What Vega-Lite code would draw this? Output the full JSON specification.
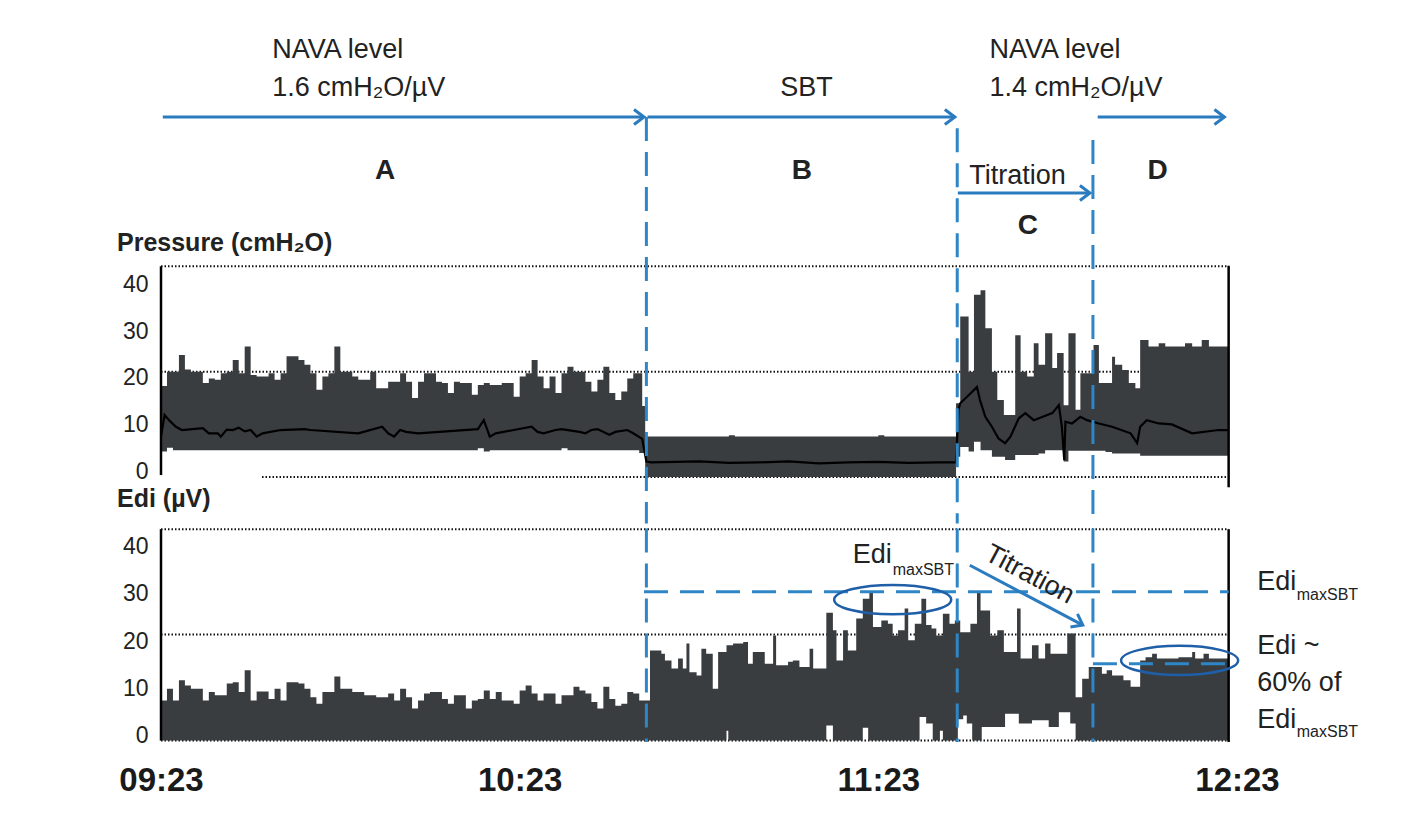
{
  "$schema": "https://vega.github.io/schema/vega-lite/v6.json",
  "padding": {"left": 117, "top": 0, "right": 5, "bottom": 5},
  "background": "white",
  "spacing": 0,
  "config": {
    "view": {"stroke": null},
    "font": "Liberation Sans",
    "text": {"font": "Liberation Sans", "color": "#222222"},
    "point": {"opacity": 1}
  },
  "resolve": {"scale": {"x": "independent", "y": "independent"}},
  "datasets": {
    "pband": [
      {"t": 0, "v": 4.3, "v2": 18.3}, {"t": 1, "v": 5.1, "v2": 21.3}, {"t": 2, "v": 4.6, "v2": 21.3}, {"t": 3, "v": 4.6, "v2": 24.9},
      {"t": 4, "v": 4.6, "v2": 21.8}, {"t": 5, "v": 4.6, "v2": 21.3}, {"t": 6, "v": 4.6, "v2": 21.3}, {"t": 7, "v": 4.6, "v2": 18.9},
      {"t": 8, "v": 4.6, "v2": 19.9}, {"t": 9, "v": 4.6, "v2": 19.6}, {"t": 10, "v": 4.6, "v2": 21.0}, {"t": 11, "v": 4.6, "v2": 21.3},
      {"t": 12, "v": 4.6, "v2": 23.8}, {"t": 13, "v": 4.6, "v2": 21.0}, {"t": 14, "v": 4.6, "v2": 26.7}, {"t": 15, "v": 4.6, "v2": 20.6},
      {"t": 16, "v": 4.6, "v2": 20.3}, {"t": 17, "v": 4.6, "v2": 20.3}, {"t": 18, "v": 4.6, "v2": 21.0}, {"t": 19, "v": 4.6, "v2": 19.6},
      {"t": 20, "v": 4.6, "v2": 21.0}, {"t": 21, "v": 4.6, "v2": 24.6}, {"t": 22, "v": 4.6, "v2": 24.6}, {"t": 23, "v": 4.6, "v2": 23.8},
      {"t": 24, "v": 4.6, "v2": 22.8}, {"t": 25, "v": 4.6, "v2": 21.0}, {"t": 26, "v": 4.6, "v2": 17.5}, {"t": 27, "v": 4.6, "v2": 20.3},
      {"t": 28, "v": 4.6, "v2": 21.0}, {"t": 29, "v": 4.6, "v2": 26.7}, {"t": 30, "v": 4.6, "v2": 21.3}, {"t": 31, "v": 4.6, "v2": 21.3},
      {"t": 32, "v": 4.6, "v2": 20.3}, {"t": 33, "v": 4.6, "v2": 19.6}, {"t": 34, "v": 4.6, "v2": 19.6}, {"t": 35, "v": 4.6, "v2": 21.3},
      {"t": 36, "v": 4.6, "v2": 17.8}, {"t": 37, "v": 4.6, "v2": 17.8}, {"t": 38, "v": 4.6, "v2": 19.2}, {"t": 39, "v": 4.6, "v2": 19.2},
      {"t": 40, "v": 4.6, "v2": 21.0}, {"t": 41, "v": 4.6, "v2": 19.2}, {"t": 42, "v": 4.6, "v2": 15.7}, {"t": 43, "v": 4.6, "v2": 19.2},
      {"t": 44, "v": 4.6, "v2": 21.0}, {"t": 45, "v": 4.6, "v2": 21.0}, {"t": 46, "v": 4.6, "v2": 19.2}, {"t": 47, "v": 4.6, "v2": 18.9},
      {"t": 48, "v": 4.6, "v2": 16.8}, {"t": 49, "v": 4.6, "v2": 19.2}, {"t": 50, "v": 4.6, "v2": 18.9}, {"t": 51, "v": 4.6, "v2": 18.9},
      {"t": 52, "v": 4.6, "v2": 16.4}, {"t": 53, "v": 5.0, "v2": 18.5}, {"t": 54, "v": 4.3, "v2": 18.9}, {"t": 55, "v": 4.6, "v2": 18.5},
      {"t": 56, "v": 4.6, "v2": 18.5}, {"t": 57, "v": 4.6, "v2": 18.9}, {"t": 58, "v": 4.6, "v2": 18.9}, {"t": 59, "v": 4.6, "v2": 16.0},
      {"t": 60, "v": 4.6, "v2": 20.3}, {"t": 61, "v": 4.6, "v2": 21.0}, {"t": 62, "v": 4.6, "v2": 23.8}, {"t": 63, "v": 4.6, "v2": 20.3},
      {"t": 64, "v": 4.6, "v2": 17.8}, {"t": 65, "v": 4.6, "v2": 20.3}, {"t": 66, "v": 4.6, "v2": 16.8}, {"t": 67, "v": 5.0, "v2": 21.0},
      {"t": 68, "v": 4.6, "v2": 22.4}, {"t": 69, "v": 4.6, "v2": 21.3}, {"t": 70, "v": 4.6, "v2": 21.3}, {"t": 71, "v": 4.6, "v2": 19.2},
      {"t": 72, "v": 4.6, "v2": 17.1}, {"t": 73, "v": 4.6, "v2": 19.6}, {"t": 74, "v": 4.6, "v2": 22.4}, {"t": 75, "v": 4.6, "v2": 16.8},
      {"t": 76, "v": 4.6, "v2": 15.3}, {"t": 77, "v": 4.6, "v2": 17.1}, {"t": 78, "v": 4.6, "v2": 19.9}, {"t": 79, "v": 4.6, "v2": 21.0},
      {"t": 80, "v": 4.0, "v2": 21.0}, {"t": 80.5, "v": 4.0, "v2": 14.0}, {"t": 81.0, "v": -1.1, "v2": 7.5},
      {"t": 95, "v": -1.1, "v2": 7.8}, {"t": 96, "v": -1.1, "v2": 7.5}, {"t": 120, "v": -1.1, "v2": 7.8}, {"t": 121, "v": -1.1, "v2": 7.5},
      {"t": 133.0, "v": 3.2, "v2": 14.6}, {"t": 133.7, "v": 5.3, "v2": 33.1}, {"t": 135.1, "v": 4.3, "v2": 21.3}, {"t": 136.0, "v": 6.4, "v2": 37.7},
      {"t": 137.1, "v": 4.6, "v2": 38.7}, {"t": 137.9, "v": 4.6, "v2": 30.6}, {"t": 139.0, "v": 3.2, "v2": 21.3}, {"t": 139.9, "v": 3.2, "v2": 15.3},
      {"t": 141.0, "v": 3.2, "v2": 12.1}, {"t": 141.2, "v": 2.5, "v2": 12.1}, {"t": 142.9, "v": 3.6, "v2": 29.1}, {"t": 143.8, "v": 3.6, "v2": 21.3},
      {"t": 144.9, "v": 3.6, "v2": 20.3}, {"t": 146.0, "v": 3.6, "v2": 27.4}, {"t": 146.8, "v": 3.9, "v2": 22.8}, {"t": 147.9, "v": 4.6, "v2": 29.5},
      {"t": 149.1, "v": 4.6, "v2": 22.1}, {"t": 149.9, "v": 4.6, "v2": 25.3}, {"t": 151.0, "v": 2.2, "v2": 14.2}, {"t": 151.8, "v": 4.5, "v2": 29.5},
      {"t": 153.0, "v": 4.5, "v2": 13.2}, {"t": 153.8, "v": 4.5, "v2": 21.0}, {"t": 156.0, "v": 4.5, "v2": 27.0}, {"t": 156.9, "v": 4.5, "v2": 18.9},
      {"t": 158.0, "v": 4.2, "v2": 18.9}, {"t": 159.1, "v": 3.9, "v2": 24.5}, {"t": 159.6, "v": 3.9, "v2": 22.8}, {"t": 160.8, "v": 3.9, "v2": 21.7},
      {"t": 161.9, "v": 3.9, "v2": 18.9}, {"t": 163.0, "v": 3.9, "v2": 17.8}, {"t": 163.8, "v": 3.4, "v2": 28.1}, {"t": 165.2, "v": 3.4, "v2": 26.7},
      {"t": 166.9, "v": 3.4, "v2": 27.4}, {"t": 168.0, "v": 3.4, "v2": 26.7}, {"t": 171.3, "v": 3.4, "v2": 27.4}, {"t": 172.5, "v": 3.4, "v2": 26.7},
      {"t": 174.1, "v": 3.4, "v2": 28.1}, {"t": 175.3, "v": 3.4, "v2": 26.7}, {"t": 178.6, "v": 3.4, "v2": 26.7}
    ],
    "pmean": [
      {"t": 0, "v": 7.5}, {"t": 0.6, "v": 12.1}, {"t": 1.5, "v": 10.8}, {"t": 2.5, "v": 9.6}, {"t": 3.5, "v": 8.9}, {"t": 7, "v": 9.3},
      {"t": 8, "v": 8.2}, {"t": 9.5, "v": 8.2}, {"t": 10, "v": 7.5}, {"t": 11, "v": 9.0}, {"t": 12, "v": 8.9}, {"t": 13, "v": 9.4},
      {"t": 14, "v": 8.6}, {"t": 15, "v": 8.9}, {"t": 16, "v": 7.5}, {"t": 17, "v": 8.2}, {"t": 20, "v": 8.9}, {"t": 24, "v": 9.1},
      {"t": 25, "v": 8.9}, {"t": 33, "v": 8.2}, {"t": 37, "v": 9.6}, {"t": 38, "v": 8.2}, {"t": 39, "v": 7.5}, {"t": 40, "v": 8.9},
      {"t": 41, "v": 8.5}, {"t": 43, "v": 8.2}, {"t": 53, "v": 9.1}, {"t": 54, "v": 11.0}, {"t": 55, "v": 7.5}, {"t": 56, "v": 8.2},
      {"t": 59, "v": 8.9}, {"t": 62, "v": 9.6}, {"t": 63, "v": 8.5}, {"t": 64, "v": 8.2}, {"t": 66, "v": 8.9}, {"t": 67, "v": 9.1},
      {"t": 70, "v": 8.5}, {"t": 71, "v": 8.2}, {"t": 72, "v": 8.9}, {"t": 73, "v": 9.1}, {"t": 75, "v": 7.9}, {"t": 76, "v": 8.5},
      {"t": 78, "v": 8.9}, {"t": 79, "v": 8.2}, {"t": 80.5, "v": 7.0}, {"t": 81.2, "v": 2.2}, {"t": 82, "v": 2.0}, {"t": 90, "v": 2.2},
      {"t": 95, "v": 1.9}, {"t": 100, "v": 2.0}, {"t": 105, "v": 2.2}, {"t": 110, "v": 1.8}, {"t": 115, "v": 2.0}, {"t": 120, "v": 2.1},
      {"t": 125, "v": 1.9}, {"t": 130, "v": 2.0}, {"t": 133.0, "v": 2.0}, {"t": 133.4, "v": 13.2}, {"t": 133.7, "v": 14.6}, {"t": 135.4, "v": 16.7},
      {"t": 136.5, "v": 18.1}, {"t": 137.0, "v": 15.3}, {"t": 137.9, "v": 11.7}, {"t": 139.0, "v": 9.6}, {"t": 140.1, "v": 7.1}, {"t": 141.2, "v": 6.1},
      {"t": 142.1, "v": 7.5}, {"t": 143.5, "v": 11.4}, {"t": 144.6, "v": 12.5}, {"t": 146.0, "v": 11.0}, {"t": 149.1, "v": 12.5}, {"t": 150.2, "v": 14.2},
      {"t": 150.7, "v": 9.6}, {"t": 151.1, "v": 2.5}, {"t": 151.3, "v": 10.7}, {"t": 152.4, "v": 10.3}, {"t": 153.8, "v": 11.7}, {"t": 154.9, "v": 11.0},
      {"t": 156.9, "v": 10.3}, {"t": 159.1, "v": 9.6}, {"t": 162.2, "v": 8.2}, {"t": 163.3, "v": 6.1}, {"t": 163.8, "v": 9.6}, {"t": 164.9, "v": 11.0},
      {"t": 166.9, "v": 10.3}, {"t": 169.1, "v": 10.1}, {"t": 172.5, "v": 8.2}, {"t": 176.9, "v": 8.9}, {"t": 178.6, "v": 8.9}
    ],
    "eband": [
      {"t": 0, "v": -1.1, "v2": 7.4}, {"t": 1, "v": -1.1, "v2": 9.9}, {"t": 2, "v": -1.1, "v2": 7.4}, {"t": 3, "v": -1.1, "v2": 11.7},
      {"t": 4, "v": -1.1, "v2": 10.6}, {"t": 5, "v": -1.1, "v2": 9.9}, {"t": 6, "v": -1.1, "v2": 9.9}, {"t": 7, "v": -1.1, "v2": 7.4},
      {"t": 8, "v": -1.1, "v2": 9.2}, {"t": 9, "v": -1.1, "v2": 8.5}, {"t": 10, "v": -1.1, "v2": 8.5}, {"t": 11, "v": -1.1, "v2": 11.0},
      {"t": 12, "v": -1.1, "v2": 11.3}, {"t": 13, "v": -1.1, "v2": 9.2}, {"t": 14, "v": -1.1, "v2": 13.8}, {"t": 15, "v": -1.1, "v2": 7.4},
      {"t": 16, "v": -1.1, "v2": 9.3}, {"t": 17, "v": -1.1, "v2": 9.3}, {"t": 18, "v": -1.1, "v2": 7.7}, {"t": 19, "v": -1.1, "v2": 9.9},
      {"t": 20, "v": -1.1, "v2": 7.4}, {"t": 21, "v": -1.1, "v2": 11.3}, {"t": 22, "v": -1.1, "v2": 11.3}, {"t": 23, "v": -1.1, "v2": 11.0},
      {"t": 24, "v": -1.1, "v2": 9.9}, {"t": 25, "v": -1.1, "v2": 8.1}, {"t": 26, "v": -1.1, "v2": 6.7}, {"t": 27, "v": -1.1, "v2": 9.2},
      {"t": 28, "v": -1.1, "v2": 9.2}, {"t": 29, "v": -1.1, "v2": 12.5}, {"t": 30, "v": -1.1, "v2": 9.9}, {"t": 31, "v": -1.1, "v2": 9.9},
      {"t": 32, "v": -1.1, "v2": 9.2}, {"t": 33, "v": -1.1, "v2": 9.2}, {"t": 34, "v": -1.1, "v2": 8.5}, {"t": 35, "v": -1.1, "v2": 8.5},
      {"t": 36, "v": -1.1, "v2": 8.1}, {"t": 37, "v": -1.1, "v2": 8.1}, {"t": 38, "v": -1.1, "v2": 8.9}, {"t": 39, "v": -1.1, "v2": 7.4},
      {"t": 40, "v": -1.1, "v2": 9.9}, {"t": 41, "v": -1.1, "v2": 8.1}, {"t": 42, "v": -1.1, "v2": 5.7}, {"t": 43, "v": -1.1, "v2": 7.4},
      {"t": 44, "v": -1.1, "v2": 8.9}, {"t": 45, "v": -1.1, "v2": 9.2}, {"t": 46, "v": -1.1, "v2": 9.2}, {"t": 47, "v": -1.1, "v2": 7.7},
      {"t": 48, "v": -1.1, "v2": 6.7}, {"t": 49, "v": -1.1, "v2": 8.5}, {"t": 50, "v": -1.1, "v2": 8.5}, {"t": 51, "v": -1.1, "v2": 5.7},
      {"t": 52, "v": -1.1, "v2": 7.4}, {"t": 53, "v": -1.1, "v2": 7.7}, {"t": 54, "v": -1.1, "v2": 9.5}, {"t": 55, "v": -1.1, "v2": 7.7},
      {"t": 56, "v": -1.1, "v2": 9.2}, {"t": 57, "v": -1.1, "v2": 7.4}, {"t": 58, "v": -1.1, "v2": 7.4}, {"t": 59, "v": -1.1, "v2": 6.7},
      {"t": 60, "v": -1.1, "v2": 9.5}, {"t": 61, "v": -1.1, "v2": 10.6}, {"t": 62, "v": -1.1, "v2": 8.9}, {"t": 63, "v": -1.1, "v2": 7.4},
      {"t": 64, "v": -1.1, "v2": 8.9}, {"t": 65, "v": -1.1, "v2": 8.9}, {"t": 66, "v": -1.1, "v2": 6.7}, {"t": 67, "v": -1.1, "v2": 8.5},
      {"t": 68, "v": -1.1, "v2": 8.5}, {"t": 69, "v": -1.1, "v2": 10.3}, {"t": 70, "v": -1.1, "v2": 9.5}, {"t": 71, "v": -1.1, "v2": 8.9},
      {"t": 72, "v": -1.1, "v2": 7.1}, {"t": 73, "v": -1.1, "v2": 5.7}, {"t": 74, "v": -1.1, "v2": 10.3}, {"t": 75, "v": -1.1, "v2": 7.7},
      {"t": 76, "v": -1.1, "v2": 6.3}, {"t": 77, "v": -1.1, "v2": 6.7}, {"t": 78, "v": -1.1, "v2": 9.2}, {"t": 79, "v": -1.1, "v2": 8.9},
      {"t": 80, "v": -1.1, "v2": 7.4},
      {"t": 81.8, "v": -1.1, "v2": 18.0}, {"t": 83.7, "v": -1.1, "v2": 17.3}, {"t": 84.3, "v": -1.1, "v2": 15.9}, {"t": 85.4, "v": -1.1, "v2": 14.2},
      {"t": 86.5, "v": -1.1, "v2": 16.3}, {"t": 87.3, "v": -1.1, "v2": 14.2}, {"t": 87.9, "v": -1.1, "v2": 19.5}, {"t": 88.4, "v": -1.1, "v2": 13.4},
      {"t": 89.6, "v": -1.1, "v2": 12.7}, {"t": 90.4, "v": -1.1, "v2": 18.4}, {"t": 91.2, "v": -1.1, "v2": 17.3}, {"t": 92.3, "v": -1.1, "v2": 9.9},
      {"t": 93.2, "v": -1.1, "v2": 17.7}, {"t": 94.6, "v": 1.0, "v2": 19.1}, {"t": 94.9, "v": -1.1, "v2": 19.1}, {"t": 95.7, "v": -1.1, "v2": 19.5},
      {"t": 97.4, "v": -1.1, "v2": 19.8}, {"t": 98.2, "v": -1.1, "v2": 15.2}, {"t": 99.0, "v": -1.1, "v2": 17.7}, {"t": 101.0, "v": -1.1, "v2": 15.2},
      {"t": 102.4, "v": -1.1, "v2": 21.2}, {"t": 102.9, "v": -1.1, "v2": 14.9}, {"t": 104.9, "v": -1.1, "v2": 15.6}, {"t": 105.7, "v": -1.1, "v2": 15.9},
      {"t": 106.8, "v": -1.1, "v2": 14.5}, {"t": 108.5, "v": -1.1, "v2": 18.4}, {"t": 109.1, "v": -1.1, "v2": 14.2}, {"t": 111.3, "v": 2.1, "v2": 26.0},
      {"t": 112.4, "v": -1.1, "v2": 22.3}, {"t": 113.0, "v": -1.1, "v2": 15.9}, {"t": 114.1, "v": -1.1, "v2": 22.3}, {"t": 114.9, "v": -1.1, "v2": 18.0},
      {"t": 116.3, "v": -1.1, "v2": 24.8}, {"t": 117.4, "v": 1.6, "v2": 29.0}, {"t": 118.3, "v": -1.1, "v2": 29.0}, {"t": 118.5, "v": -1.1, "v2": 30.4},
      {"t": 119.1, "v": -1.1, "v2": 23.0}, {"t": 120.5, "v": -1.1, "v2": 24.4}, {"t": 121.6, "v": -1.1, "v2": 23.7}, {"t": 122.4, "v": -1.1, "v2": 21.2},
      {"t": 123.3, "v": -1.1, "v2": 22.3}, {"t": 124.4, "v": -1.1, "v2": 26.9}, {"t": 125.0, "v": -1.1, "v2": 20.2}, {"t": 126.1, "v": -1.1, "v2": 23.7},
      {"t": 126.9, "v": 3.9, "v2": 23.7}, {"t": 127.2, "v": 3.9, "v2": 29.0}, {"t": 128.0, "v": 2.5, "v2": 23.4}, {"t": 128.9, "v": 2.5, "v2": 22.7},
      {"t": 129.1, "v": -1.1, "v2": 22.7}, {"t": 129.7, "v": -1.1, "v2": 21.2}, {"t": 130.3, "v": 1.0, "v2": 21.2}, {"t": 130.8, "v": -1.1, "v2": 25.8},
      {"t": 131.9, "v": -1.1, "v2": 23.7}, {"t": 132.8, "v": -1.1, "v2": 24.4}, {"t": 133.3, "v": 3.4, "v2": 24.4}, {"t": 133.7, "v": 3.4, "v2": 21.9},
      {"t": 134.2, "v": 4.2, "v2": 21.9}, {"t": 134.8, "v": 2.5, "v2": 21.9}, {"t": 135.4, "v": 2.5, "v2": 23.7}, {"t": 135.7, "v": -1.1, "v2": 23.7},
      {"t": 136.5, "v": -1.1, "v2": 30.4}, {"t": 137.1, "v": -1.1, "v2": 26.5}, {"t": 137.3, "v": 1.8, "v2": 26.5}, {"t": 138.7, "v": 1.8, "v2": 21.2},
      {"t": 139.9, "v": 1.8, "v2": 22.3}, {"t": 141.0, "v": 1.8, "v2": 17.7}, {"t": 141.2, "v": 4.6, "v2": 17.7}, {"t": 143.2, "v": 4.6, "v2": 26.9},
      {"t": 143.5, "v": 2.5, "v2": 26.9}, {"t": 143.8, "v": 2.5, "v2": 16.3}, {"t": 145.7, "v": 3.2, "v2": 19.1}, {"t": 146.8, "v": 3.2, "v2": 16.3},
      {"t": 147.9, "v": 3.2, "v2": 19.5}, {"t": 148.5, "v": 1.8, "v2": 19.5}, {"t": 148.8, "v": 1.8, "v2": 17.3}, {"t": 150.2, "v": 4.9, "v2": 17.3},
      {"t": 151.6, "v": 4.9, "v2": 21.6}, {"t": 152.1, "v": 2.5, "v2": 21.6}, {"t": 153.0, "v": -1.1, "v2": 8.1}, {"t": 154.1, "v": -1.1, "v2": 12.0},
      {"t": 155.2, "v": -1.1, "v2": 14.5}, {"t": 157.4, "v": -1.1, "v2": 13.1}, {"t": 158.2, "v": -1.1, "v2": 13.8}, {"t": 159.1, "v": -1.1, "v2": 12.7},
      {"t": 161.0, "v": -1.1, "v2": 11.7}, {"t": 162.2, "v": -1.1, "v2": 10.3}, {"t": 163.8, "v": -1.1, "v2": 15.9}, {"t": 164.7, "v": -1.1, "v2": 16.6},
      {"t": 165.8, "v": -1.1, "v2": 17.3}, {"t": 166.6, "v": -1.1, "v2": 16.3}, {"t": 170.2, "v": -1.1, "v2": 16.6}, {"t": 172.5, "v": -1.1, "v2": 17.7},
      {"t": 173.0, "v": -1.1, "v2": 16.3}, {"t": 174.4, "v": -1.1, "v2": 17.3}, {"t": 175.3, "v": -1.1, "v2": 16.3}, {"t": 178.6, "v": -1.1, "v2": 16.3}
    ],
    "pgrid": [{"t": 0, "t2": 178.6, "v": 43.8}, {"t": 0, "t2": 178.6, "v": 21.3}, {"t": 16.9, "t2": 178.6, "v": -1.1}],
    "pframe": [{"t": 0, "v": -0.7, "v2": 43.8}, {"t": 178.6, "v": -3.3, "v2": 43.9}],
    "pdash": [{"t": 81.2, "v": 75.6, "v2": -11.0}, {"t": 133.2, "v": 73.2, "v2": -11.0}, {"t": 155.9, "v": 70.7, "v2": -11.0}],
    "arrows": [{"t": 0.3, "t2": 80.8, "v": 75.6}, {"t": 81.4, "t2": 132.8, "v": 75.6}, {"t": 156.7, "t2": 177.9, "v": 75.6}, {"t": 133.3, "t2": 155.4, "v": 59.4}],
    "heads": [{"t": 80.8, "v": 75.6}, {"t": 132.8, "v": 75.6}, {"t": 177.9, "v": 75.6}, {"t": 155.4, "v": 59.4}],
    "notesLeft": [
      {"t": 18.6, "v": 89.8, "label": "NAVA level"},
      {"t": 18.6, "v": 81.8, "label": "1.6 cmH₂O/µV"},
      {"t": 138.6, "v": 89.8, "label": "NAVA level"},
      {"t": 138.6, "v": 81.8, "label": "1.4 cmH₂O/µV"}
    ],
    "notesCenter": [
      {"t": 108.0, "v": 81.8, "label": "SBT"},
      {"t": 143.3, "v": 63.0, "label": "Titration"}
    ],
    "letters": [
      {"t": 37.5, "v": 64.1, "label": "A"},
      {"t": 107.2, "v": 64.1, "label": "B"},
      {"t": 145.0, "v": 52.4, "label": "C"},
      {"t": 166.7, "v": 64.1, "label": "D"}
    ],
    "titles": [
      {"t": -7.36, "v": 48.75, "label": "Pressure (cmH₂O)"},
      {"t": -7.36, "v": -5.8, "label": "Edi (µV)"}
    ],
    "egrid": [{"t": 0, "t2": 178.6, "v": 43.75}, {"t": 0, "t2": 178.6, "v": 21.4}, {"t": 0, "t2": 178.6, "v": -1.1}],
    "eframe": [{"t": 0, "v": -1.1, "v2": 43.75}, {"t": 178.6, "v": -1.4, "v2": 43.75}],
    "edash": [{"t": 81.2, "v": 43.9, "v2": -1.4}, {"t": 133.2, "v": 43.9, "v2": -1.4}, {"t": 155.9, "v": 43.9, "v2": -1.4}],
    "ehdash": [{"t": 80.8, "t2": 178.6, "v": 30.5}, {"t": 155.9, "t2": 178.6, "v": 15.2}],
    "ellipses": [{"t": 122.4, "v": 28.8}, {"t": 170.4, "v": 15.9}],
    "diag": [{"t": 135.3, "v": 36.1, "t2": 154.2, "v2": 23.4}],
    "diagHead": [{"t": 154.2, "v": 23.4}],
    "enotes": [
      {"t": 115.7, "v": 38.2, "label": "Edi"},
      {"t": 183.4, "v": 32.6, "label": "Edi"},
      {"t": 183.4, "v": 19.0, "label": "Edi ~"},
      {"t": 183.4, "v": 11.2, "label": "60% of"},
      {"t": 183.4, "v": 3.3, "label": "Edi"}
    ],
    "esubs": [
      {"t": 122.4, "v": 35.0, "label": "maxSBT"},
      {"t": 190.0, "v": 29.7, "label": "maxSBT"},
      {"t": 190.0, "v": 0.8, "label": "maxSBT"}
    ],
    "etitration": [{"t": 145.3, "v": 34.1, "label": "Titration"}]
  },
  "vconcat": [
    {
      "width": 1076,
      "height": 526,
      "encoding": {
        "x": {"field": "t", "type": "quantitative", "scale": {"domain": [0, 180], "nice": false, "zero": false}, "axis": null},
        "y": {"field": "v", "type": "quantitative", "scale": {"domain": [-11.55, 100.53], "nice": false, "zero": false},
          "axis": {"values": [0, 10, 20, 30, 40], "title": null, "grid": false, "ticks": false, "domain": false,
            "labelFontSize": 23, "labelColor": "#222222", "labelPadding": 13, "labelFont": "Liberation Sans"}}
      },
      "layer": [
        {"data": {"name": "pgrid"}, "mark": {"type": "rule", "color": "#111111", "strokeWidth": 2, "strokeDash": [1.5, 2]},
          "encoding": {"x2": {"field": "t2"}}},
        {"data": {"name": "pband"}, "mark": {"type": "area", "interpolate": "step-after", "color": "#3a3d40"},
          "encoding": {"y2": {"field": "v2"}}},
        {"data": {"name": "pmean"}, "mark": {"type": "line", "color": "#000000", "strokeWidth": 2.2}, "encoding": {}},
        {"data": {"name": "pframe"}, "mark": {"type": "rule", "color": "#000000", "strokeWidth": 2.5},
          "encoding": {"y2": {"field": "v2"}}},
        {"data": {"name": "pdash"}, "mark": {"type": "rule", "color": "#2f86c6", "strokeWidth": 3, "strokeDash": [24, 11]},
          "encoding": {"y2": {"field": "v2"}}},
        {"data": {"name": "arrows"}, "mark": {"type": "rule", "color": "#2b7bbf", "strokeWidth": 3},
          "encoding": {"x2": {"field": "t2"}}},
        {"data": {"name": "heads"}, "mark": {"type": "point", "shape": "M -1 -0.75 L 0 0 L -1 0.75", "filled": false, "color": "#2b7bbf", "strokeWidth": 3, "size": 400}},
        {"data": {"name": "notesLeft"}, "mark": {"type": "text", "align": "left", "baseline": "middle", "fontSize": 27},
          "encoding": {"text": {"field": "label"}}},
        {"data": {"name": "notesCenter"}, "mark": {"type": "text", "align": "center", "baseline": "middle", "fontSize": 27},
          "encoding": {"text": {"field": "label"}}},
        {"data": {"name": "letters"}, "mark": {"type": "text", "align": "center", "baseline": "middle", "fontSize": 28, "fontWeight": "bold"},
          "encoding": {"text": {"field": "label"}}},
        {"data": {"name": "titles"}, "mark": {"type": "text", "align": "left", "baseline": "middle", "fontSize": 25, "fontWeight": "bold"},
          "encoding": {"text": {"field": "label"}}}
      ]
    },
    {
      "width": 1076,
      "height": 214,
      "encoding": {
        "x": {"field": "t", "type": "quantitative", "scale": {"domain": [0, 180], "nice": false, "zero": false},
          "axis": {"values": [0, 60, 120, 180], "labelExpr": "['09:23','10:23','11:23','12:23'][round(datum.value/60)]",
            "title": null, "grid": false, "ticks": false, "domain": false, "labelFlush": false, "labelOverlap": false, "labelBound": false,
            "labelFont": "Liberation Sans", "labelFontWeight": "bold", "labelFontSize": 33, "labelColor": "#1a1a1a", "labelPadding": 22}},
        "y": {"field": "v", "type": "quantitative", "scale": {"domain": [-1.4, 44.0], "nice": false, "zero": false},
          "axis": {"values": [0, 10, 20, 30, 40], "title": null, "grid": false, "ticks": false, "domain": false,
            "labelFontSize": 23, "labelColor": "#222222", "labelPadding": 13, "labelFont": "Liberation Sans"}}
      },
      "layer": [
        {"data": {"name": "egrid"}, "mark": {"type": "rule", "color": "#111111", "strokeWidth": 2, "strokeDash": [1.5, 2]},
          "encoding": {"x2": {"field": "t2"}}},
        {"data": {"name": "eband"}, "mark": {"type": "area", "interpolate": "step-after", "color": "#3a3d40"},
          "encoding": {"y2": {"field": "v2"}}},
        {"data": {"name": "eframe"}, "mark": {"type": "rule", "color": "#000000", "strokeWidth": 2.5},
          "encoding": {"y2": {"field": "v2"}}},
        {"data": {"name": "edash"}, "mark": {"type": "rule", "color": "#2f86c6", "strokeWidth": 3, "strokeDash": [24, 11]},
          "encoding": {"y2": {"field": "v2"}}},
        {"data": {"name": "ehdash"}, "mark": {"type": "rule", "color": "#2f86c6", "strokeWidth": 3, "strokeDash": [24, 12]},
          "encoding": {"x2": {"field": "t2"}}},
        {"data": {"name": "ellipses"}, "mark": {"type": "point", "shape": "M -1 0 C -1 -0.138 -0.552 -0.25 0 -0.25 C 0.552 -0.25 1 -0.138 1 0 C 1 0.138 0.552 0.25 0 0.25 C -0.552 0.25 -1 0.138 -1 0 Z", "filled": false, "color": "#1f5fa8", "strokeWidth": 2.5, "size": 13689}},
        {"data": {"name": "diag"}, "mark": {"type": "rule", "color": "#2b7bbf", "strokeWidth": 3},
          "encoding": {"x2": {"field": "t2"}, "y2": {"field": "v2"}}},
        {"data": {"name": "diagHead"}, "mark": {"type": "point", "shape": "M -1 -0.75 L 0 0 L -1 0.75", "filled": false, "color": "#2b7bbf", "strokeWidth": 3, "size": 400, "angle": 28}},
        {"data": {"name": "enotes"}, "mark": {"type": "text", "align": "left", "baseline": "middle", "fontSize": 27},
          "encoding": {"text": {"field": "label"}}},
        {"data": {"name": "esubs"}, "mark": {"type": "text", "align": "left", "baseline": "middle", "fontSize": 16},
          "encoding": {"text": {"field": "label"}}},
        {"data": {"name": "etitration"}, "mark": {"type": "text", "align": "center", "baseline": "middle", "fontSize": 27, "angle": 28},
          "encoding": {"text": {"field": "label"}}}
      ]
    }
  ]
}
